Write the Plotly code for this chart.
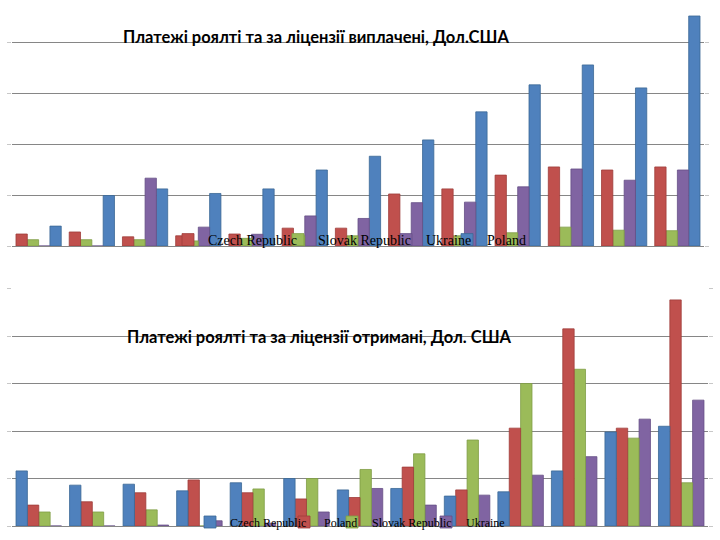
import plotly.graph_objects as go

# ---------------- data ----------------
years = [str(y) for y in range(2000, 2013)]

paid_czech = [0.235, 0.275, 0.18, 0.20, 0.235, 0.35, 0.35, 1.02, 1.12, 1.39, 1.55, 1.49, 1.55]
paid_slovak = [0.124, 0.124, 0.124, 0.10, 0.15, 0.20, 0.20, 0.20, 0.20, 0.26, 0.37, 0.31, 0.30]
paid_ukraine = [0, 0, 1.33, 0.37, 0.23, 0.59, 0.54, 0.85, 0.86, 1.16, 1.51, 1.29, 1.49]
paid_poland = [0.39, 0.99, 1.12, 1.03, 1.12, 1.49, 1.76, 2.08, 2.63, 3.16, 3.55, 3.10, 4.51]

# Bottom chart: royalty & licence fees received
recv_czech = [1.16, 0.86, 0.88, 0.74, 0.91, 1.00, 0.76, 0.79, 0.63, 0.72, 1.16, 1.98, 2.10]
recv_poland = [0.44, 0.51, 0.70, 0.97, 0.70, 0.57, 0.60, 1.24, 0.76, 2.06, 4.15, 2.06, 4.76]
recv_slovak = [0.295, 0.295, 0.34, 0, 0.78, 1.00, 1.19, 1.52, 1.81, 3.00, 3.30, 1.85, 0.91]
recv_ukraine = [0, 0, 0.02, 0.11, 0.06, 0.295, 0.79, 0.44, 0.65, 1.07, 1.46, 2.25, 2.65]

title_top = "Платежі роялті та за ліцензії виплачені, Дол.США"
title_bottom = "Платежі роялті та за ліцензії отримані, Дол. США"

BLUE, RED, GREEN, PURPLE = "#4F81BD", "#C0504D", "#9BBB59", "#8064A2"
EDGE = {BLUE: "#3B6896", RED: "#9E3C3A", GREEN: "#7F9D45", PURPLE: "#654E85"}

W, H = 720, 540

# (name, values, colour, slot within group, legend text x-position in px)
top_series = [("Czech Republic", paid_czech, RED, 0, 208),
              ("Slovak Republic", paid_slovak, GREEN, 1, 318),
              ("Ukraine", paid_ukraine, PURPLE, 2, 426),
              ("Poland", paid_poland, BLUE, 3, 487)]
bottom_series = [("Czech Republic", recv_czech, BLUE, 0, 230),
                 ("Poland", recv_poland, RED, 1, 324),
                 ("Slovak Republic", recv_slovak, GREEN, 2, 372),
                 ("Ukraine", recv_ukraine, PURPLE, 3, 466)]

GROUP_W = 0.85
BAR_W = GROUP_W / 4

fig = go.Figure()
layout_legends = {}
idx = 1
# traces are added right-to-left so that each legend text is drawn above the next symbol
for series, axis, ypx, fsize in [(top_series, "", 240, 14), (bottom_series, "2", 522, 12)]:
    for name, vals, col, slot, tx in reversed(series):
        lname = "legend" if idx == 1 else f"legend{idx}"
        fig.add_trace(go.Bar(
            x=years, y=vals, name=name, legend=lname,
            width=BAR_W, offset=-GROUP_W / 2 + slot * BAR_W,
            marker=dict(color=col, line=dict(color=EDGE[col], width=0.8)),
            xaxis="x" + axis, yaxis="y" + axis,
        ))
        layout_legends[lname] = dict(
            x=(tx - 40) / W, xanchor="left",
            y=(H - ypx) / H, yanchor="middle",
            orientation="h", bgcolor="rgba(0,0,0,0)", borderwidth=0,
            font=dict(family="Liberation Serif", size=fsize, color="#000000"),
            itemwidth=30, tracegroupgap=0,
        )
        idx += 1

grid = "#868686"
yax_common = dict(showgrid=True, gridcolor=grid, gridwidth=1, zeroline=True,
                  zerolinecolor=grid, zerolinewidth=1, showticklabels=False,
                  ticks="outside", ticklen=4, tickcolor="#c8c8c8", mirror="ticks",
                  showline=False, dtick=1, tick0=0)
xax_common = dict(showticklabels=False, showgrid=False, zeroline=False, showline=False,
                  ticks="", type="category", categoryorder="array", categoryarray=years)

top_base, top_unit, top_range = 246, 51.0, 4.62
bot_base, bot_unit, bot_range = 526, 47.5, 5.0

fig.update_layout(
    width=W, height=H,
    margin=dict(l=0, r=0, t=0, b=0),
    paper_bgcolor="white", plot_bgcolor="white",
    barmode="overlay",
    showlegend=True,
    xaxis=dict(domain=[12 / W, 704 / W], anchor="y", **xax_common),
    yaxis=dict(domain=[(H - top_base) / H, (H - (top_base - top_range * top_unit)) / H],
               range=[0, top_range], anchor="x", **yax_common),
    xaxis2=dict(domain=[12 / W, 708 / W], anchor="y2", **xax_common),
    yaxis2=dict(domain=[(H - bot_base) / H, (H - (bot_base - bot_range * bot_unit)) / H],
                range=[0, bot_range], anchor="x2", **yax_common),
    annotations=[
        dict(text=title_top, xref="paper", yref="paper", x=316 / W, y=(H - 37) / H,
             xanchor="center", yanchor="middle", showarrow=False,
             font=dict(family="Lato", size=16.5, color="#000000", weight="bold")),
        dict(text=title_bottom, xref="paper", yref="paper", x=319.5 / W, y=(H - 337) / H,
             xanchor="center", yanchor="middle", showarrow=False,
             font=dict(family="Lato", size=16.5, color="#000000", weight="bold")),
    ],
    **layout_legends,
)

fig.write_html("out.html", config={"displayModeBar": False},
               post_script="document.body.style.margin='0';")
